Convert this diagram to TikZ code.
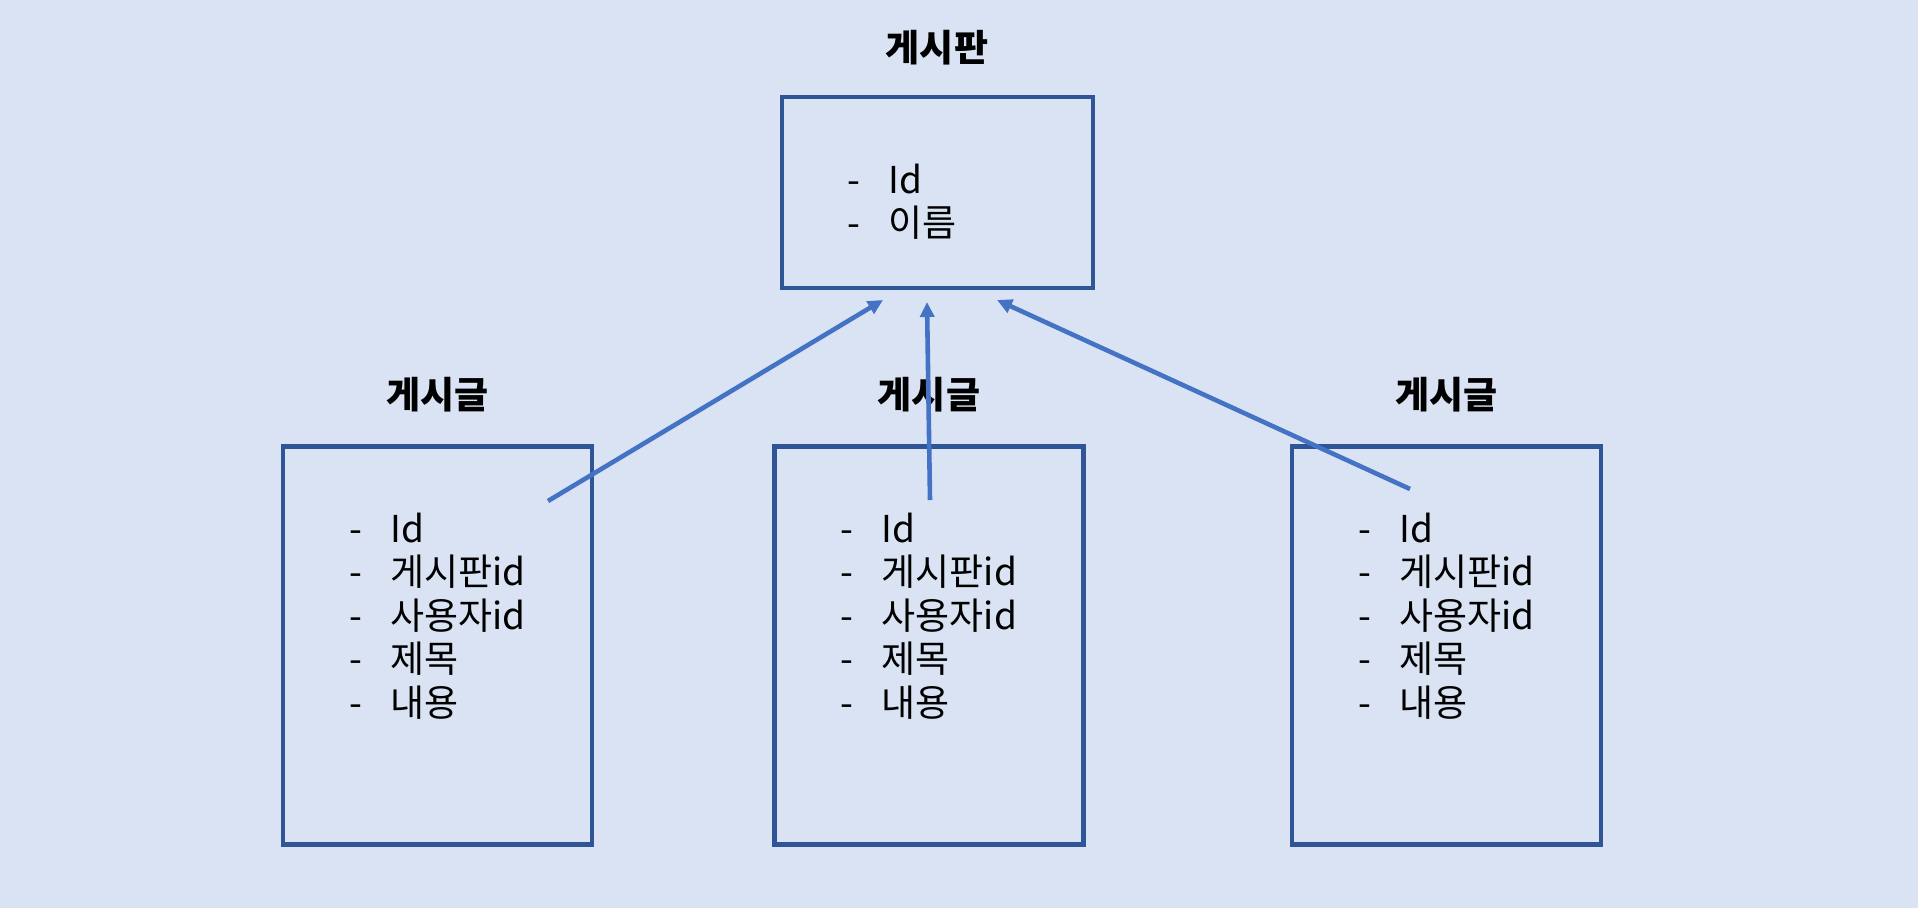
\documentclass[tikz,border=0pt]{standalone}
\usepackage{fontspec}
\setmainfont{Noto Sans CJK KR}
\usepackage{tikz}
\usetikzlibrary{arrows.meta,positioning}
\definecolor{bgBlue}{HTML}{DAE3F3}
\definecolor{boxLine}{HTML}{2F5597}
\definecolor{linkBlue}{HTML}{4472C4}
\tikzset{
  entity/.style={
    draw=boxLine, line width=4.6pt, minimum width=309pt, minimum height=398pt,
    inner sep=0pt
  },
  tabletitle/.style={font=\fontsize{37}{44}\selectfont\bfseries, inner sep=0pt},
  field/.style={font=\fontsize{37}{44}\selectfont, anchor=base west, inner sep=0pt},
  link/.style={-{Triangle[length=15pt,width=14pt]}, line width=4.6pt, linkBlue}
}

\begin{document}
\begin{tikzpicture}[x=1pt, y=-1pt]
  \fill[bgBlue] (0,0) rectangle (1918,908);
  \useasboundingbox (0,0) rectangle (1918,908);
  \node[entity, minimum width=311pt, minimum height=191pt] (board) at (937.5,192.5) {};
  \node[tabletitle] (boardtitle) at (937,48) {게시판};
  \foreach \txt [count=\i from 0] in {Id, 이름}
    \node[field] (board-\i) at (847,193+43.5*\i) {\makebox[41pt][l]{-}\txt};
  \foreach \n/\cx in {1/437.5, 2/929, 3/1446.5} {
    \node[entity] (post\n) at (\cx,645.5) {};
    \node[tabletitle] (posttitle\n) at (\cx,395) {게시글};
    \foreach \txt [count=\i from 0] in {Id, 게시판id, 사용자id, 제목, 내용}
      \node[field] (post\n-\i) at (\cx-88.5,542+43.5*\i) {\makebox[41pt][l]{-}\txt};
  }
  \coordinate (from1) at (548,501);
  \coordinate (to1) at (883,300);
  \coordinate (from2) at (930,500);
  \coordinate (to2) at (927,302);
  \coordinate (from3) at (1410,489);
  \coordinate (to3) at (997,300);
  \draw[link] (from1) -- (to1);
  \draw[link] (from2) -- (to2);
  \draw[link] (from3) -- (to3);
\end{tikzpicture}
\end{document}
